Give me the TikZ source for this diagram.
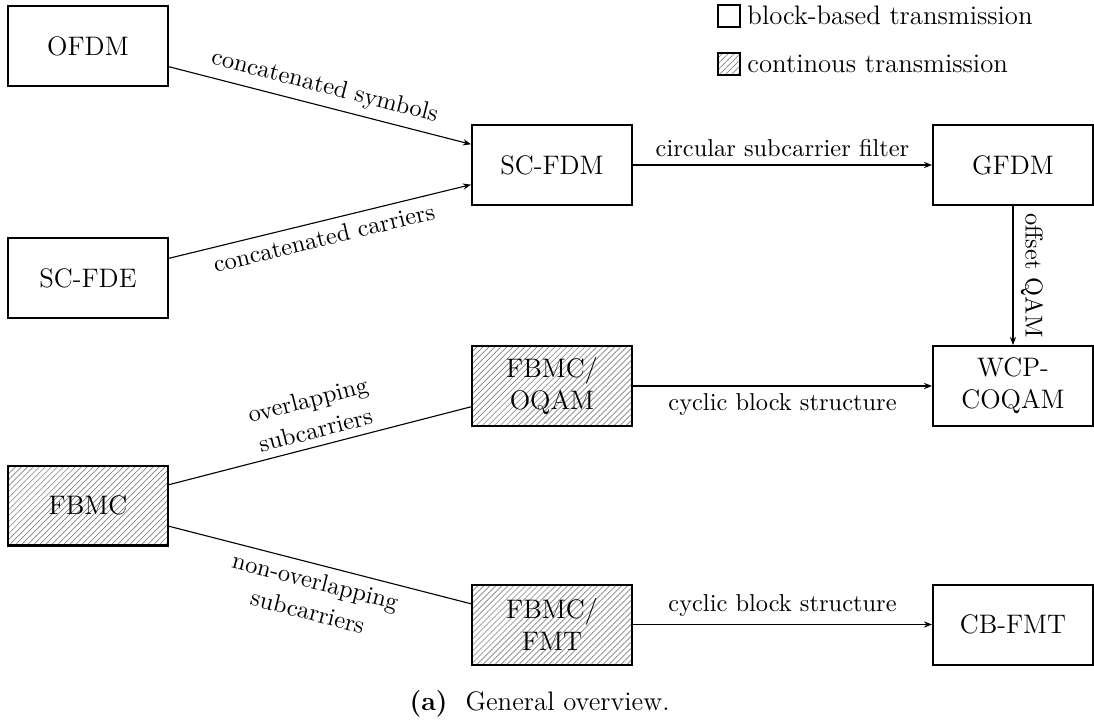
\documentclass[tikz,border=0pt]{standalone}
\usetikzlibrary{arrows.meta,patterns.meta}
\begin{document}
\begin{tikzpicture}[x=0.4484pt,y=-0.4484pt,
  box/.style={draw, line width=0.9pt, minimum width=71.75pt, minimum height=35.87pt, inner sep=0pt, align=center, font=\fontsize{12}{14.5}\selectfont},
  hatch/.style={pattern={Lines[angle=45,distance=1.9pt,line width=0.3pt]}, pattern color=gray},
  hatched/.style={box, hatch},
  conn/.style={line width=0.5pt},
  arr/.style={conn, -{Stealth[length=3.6pt,width=2.8pt]}},
  lbl/.style={font=\fontsize{10.95}{14}\selectfont, align=center},
  legbox/.style={draw, line width=0.7pt, minimum size=9.8pt, inner sep=0pt},
  legtext/.style={anchor=base west, inner sep=0pt, font=\fontsize{12}{14.5}\selectfont}
]
\useasboundingbox (0,0) rectangle (1094,722);

\node[box] (ofdm) at (88,46) {OFDM};
\node[box] (scfde) at (88,278) {SC-FDE};
\node[hatched] (fbmc) at (88,505.5) {FBMC};
\node[box] (scfdm) at (552,165) {SC-FDM};
\node[hatched] (oqam) at (552,386) {FBMC/\\OQAM};
\node[hatched] (fmt) at (552,624.5) {FBMC/\\FMT};
\node[box] (gfdm) at (1013,165) {GFDM};
\node[box] (wcp) at (1013,386) {WCP-\\COQAM};
\node[box] (cbfmt) at (1013,624.5) {CB-FMT};

\draw[arr] (ofdm) -- node[lbl, sloped, above] {concatenated symbols} (scfdm);
\draw[arr] (scfde) -- node[lbl, sloped, below] {concatenated carriers} (scfdm);
\draw[arr] (scfdm) -- node[lbl, above] {circular subcarrier filter} (gfdm);
\draw[arr] (gfdm) -- node[lbl, rotate=-90, anchor=south] {offset QAM} (wcp);
\draw[arr] (oqam) -- node[lbl, below] {cyclic block structure} (wcp);
\draw[arr] (fmt) -- node[lbl, above] {cyclic block structure} (cbfmt);
\draw[conn] (fbmc) -- node[lbl, sloped, above] {overlapping\\subcarriers} (oqam);
\draw[conn] (fbmc) -- node[lbl, sloped, below] {non-overlapping\\subcarriers} (fmt);

\node[legbox] (lg1) at (729,16) {};
\node[legbox, hatch] (lg2) at (729,64) {};
\node[legtext] (lt1) at (747,25) {block-based transmission};
\node[legtext] (lt2) at (747,73) {continous transmission};

\node[anchor=base east, inner sep=0pt, font=\fontsize{12}{14.5}\selectfont] (cap) at (670,710) {\textbf{(a)}\hspace{8pt}General overview.};
\end{tikzpicture}
\end{document}
